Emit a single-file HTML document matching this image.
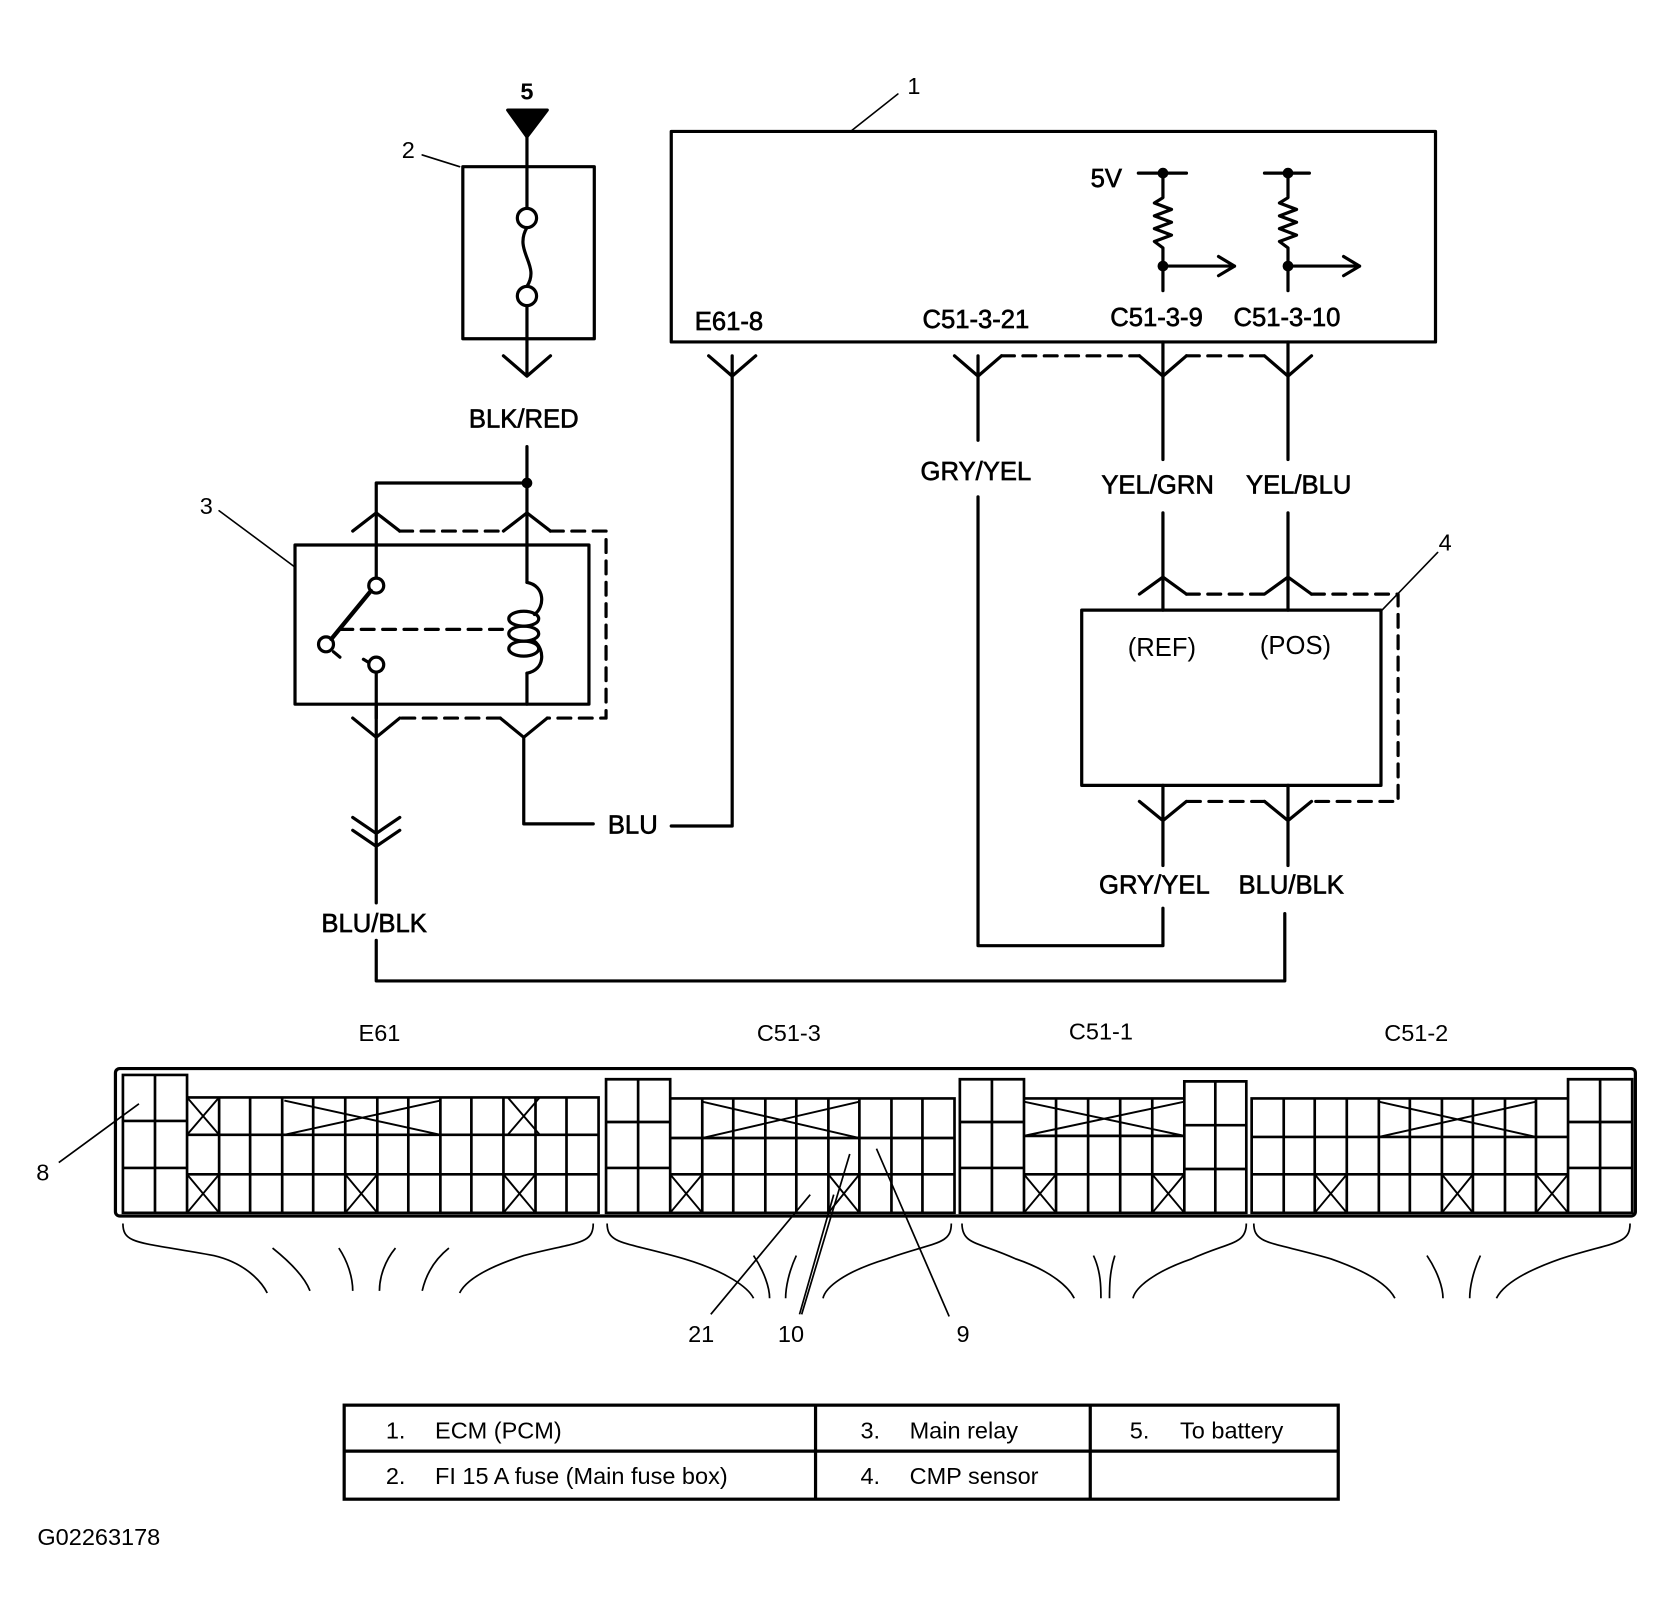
<!DOCTYPE html>
<html><head><meta charset="utf-8"><style>
html,body{margin:0;padding:0;background:#fff}
svg{display:block}
text{font-family:"Liberation Sans",Arial,sans-serif;fill:#000}
.w{font-size:24px;stroke:#000;stroke-width:0.6}
.n{font-size:22px}
</style></head><body>
<svg width="1676" height="1621" viewBox="0 0 1568 1517" preserveAspectRatio="none" xmlns="http://www.w3.org/2000/svg">
<g fill="none" stroke="#000" stroke-width="3" stroke-linecap="round" stroke-linejoin="round">
<rect x="628" y="123" width="715" height="197"/>
<path d="M797 122 L840 88" stroke-width="1.5"/>
<path d="M1065 162 H1110 M1088 162 V185 L1080 190 L1096 196 L1080 202 L1096 208 L1080 214 L1096 220 L1080 226 L1088 232 V272"/>
<path d="M1088 249 H1155 M1140 240 L1155 249 L1140 258"/>
<path d="M1183 162 H1225 M1205 162 V185 L1197 190 L1213 196 L1197 202 L1213 208 L1197 214 L1213 220 L1197 226 L1205 232 V272"/>
<path d="M1205 249 H1272 M1257 240 L1272 249 L1257 258"/>
<path d="M685 333 V773 H628 M663 333 L685 352 L707 333"/>
<path d="M555 771 H490 V690 M468 672 L490 690 L512 672"/>
<path d="M915 333 V412 M893 333 L915 352 L937 333"/>
<path d="M915 465 V885 H1088 V850"/>
<path d="M1088 320 V430 M1066 333 L1088 352 L1110 333"/>
<path d="M1205 320 V430 M1183 333 L1205 352 L1227 333"/>
<path d="M937 333 H1066 M1110 333 H1183" stroke-dasharray="12 8"/>
<path d="M1088 480 V571 M1066 556 L1088 540 L1110 556"/>
<path d="M1205 480 V571 M1183 556 L1205 540 L1227 556"/>
<path d="M1110 556 H1183 M1227 556 H1308 V750 H1227 M1183 750 H1110" stroke-dasharray="12 8"/>
<rect x="1012" y="571" width="280" height="164"/>
<path d="M1088 735 V810 M1066 750 L1088 768 L1110 750"/>
<path d="M1205 735 V810 M1183 750 L1205 768 L1227 750"/>
<path d="M1202 855 V918 H352 V880"/>
<path d="M1292 572 L1345 517" stroke-width="1.5"/>
<path d="M475 103 L512 103 L493 128 Z" fill="#000"/>
<path d="M493 103 V195 M493 286 V350 M471 333 L493 352 L515 333"/>
<rect x="433" y="156" width="123" height="161"/>
<circle cx="493" cy="204" r="9"/>
<circle cx="493" cy="277" r="9"/>
<path d="M493 213 C480 235 506 248 493 268"/>
<path d="M395 145 L430 156" stroke-width="1.5"/>
<path d="M493 418 V545 M352 452 H493 M352 452 V541"/>
<path d="M330 497 L352 480 L374 497 M471 497 L493 480 L515 497"/>
<path d="M374 497 H471 M515 497 H567 V672 H512 M468 672 H374" stroke-dasharray="12 8"/>
<rect x="276" y="510" width="275" height="149"/>
<path d="M205 478 L275 530" stroke-width="1.5"/>
<circle cx="352" cy="548" r="7" fill="#fff"/>
<circle cx="305" cy="603" r="7" fill="#fff"/>
<circle cx="352" cy="622" r="7" fill="#fff"/>
<path d="M310 598 L347 553" stroke-width="4"/>
<path d="M352 629 V672 M312 610 L318 615 M345 620 L340 617"/>
<path d="M318 589 H470" stroke-dasharray="12 8"/>
<path d="M493 545 C510 548 510 568 500 575 M493 630 C510 627 510 608 500 600"/>
<ellipse cx="490" cy="579" rx="14" ry="7"/>
<ellipse cx="490" cy="593" rx="14" ry="7"/>
<ellipse cx="490" cy="607" rx="14" ry="7"/>
<path d="M493 630 V659"/>
<path d="M352 659 V845 M330 672 L352 690 L374 672 M330 765 L352 780 L374 765 M330 777 L352 792 L374 777"/>
<rect x="108" y="1000" width="1422" height="138" rx="4"/>
</g>
<g fill="#000">
<circle cx="493" cy="452" r="5"/>
<circle cx="1088" cy="162" r="5"/>
<circle cx="1088" cy="249" r="5"/>
<circle cx="1205" cy="162" r="5"/>
<circle cx="1205" cy="249" r="5"/>
</g>
<g fill="none" stroke="#000" stroke-width="2">
<path d="M115 1006 H175 V1027 H560 V1135 H115 Z M115 1049 H175 M115 1093 H175 M145 1006 V1135 M175 1027 V1135 M175 1062 H560 M175 1099 H560 M205 1027V1135 M234 1027V1135 M264 1027V1135 M293 1027V1135 M323 1027V1135 M353 1027V1135 M382 1027V1135 M412 1027V1135 M441 1027V1135 M471 1027V1135 M501 1027V1135 M530 1027V1135" stroke-width="2.5"/>
<path d="M175 1027 L205 1062 M205 1027 L175 1062 M475 1027 L505 1062 M505 1027 L475 1062 M175 1099 L205 1135 M205 1099 L175 1135 M323 1099 L353 1135 M353 1099 L323 1135 M471 1099 L501 1135 M501 1099 L471 1135 M266 1030 L412 1062 M266 1062 L412 1030" stroke-width="1.8"/>
<path d="M567 1010 H627 V1028 H893 V1135 H567 Z M567 1050 H627 M567 1093 H627 M597 1010 V1135 M627 1028 V1135 M627 1065 H893 M627 1099 H893 M657 1028V1135 M686 1028V1135 M716 1028V1135 M745 1028V1135 M775 1028V1135 M804 1028V1135 M834 1028V1135 M863 1028V1135" stroke-width="2.5"/>
<path d="M627 1099 L657 1135 M657 1099 L627 1135 M775 1099 L804 1135 M804 1099 L775 1135 M657 1031 L804 1065 M657 1065 L804 1031" stroke-width="1.8"/>
<path d="M898 1010 H958 V1028 H1108 V1012 H1166 V1135 H898 Z M898 1050 H958 M898 1093 H958 M928 1010 V1135 M958 1028 V1135 M958 1063 H1108 M958 1099 H1108 M988 1028V1135 M1018 1028V1135 M1048 1028V1135 M1078 1028V1135 M1108 1012 V1135 M1137 1012 V1135 M1108 1053 H1166 M1108 1094 H1166" stroke-width="2.5"/>
<path d="M958 1099 L988 1135 M988 1099 L958 1135 M1078 1099 L1108 1135 M1108 1099 L1078 1135 M958 1031 L1108 1063 M958 1063 L1108 1031" stroke-width="1.8"/>
<path d="M1171 1028 H1467 V1010 H1527 V1135 H1171 Z M1171 1064 H1467 M1171 1099 H1467 M1467 1050 H1527 M1467 1093 H1527 M1497 1010 V1135 M1201 1028V1135 M1230 1028V1135 M1260 1028V1135 M1290 1028V1135 M1319 1028V1135 M1349 1028V1135 M1378 1028V1135 M1408 1028V1135 M1437 1028V1135 M1467 1028V1135" stroke-width="2.5"/>
<path d="M1230 1099 L1260 1135 M1260 1099 L1230 1135 M1349 1099 L1378 1135 M1378 1099 L1349 1135 M1437 1099 L1467 1135 M1467 1099 L1437 1135 M1290 1031 L1437 1064 M1290 1064 L1437 1031" stroke-width="1.8"/>
</g>
<g fill="none" stroke="#000" stroke-width="1.6">
<path d="M115 1145 C115 1165 130 1162 200 1175 C230 1182 245 1200 250 1210"/>
<path d="M555 1145 C555 1165 540 1162 490 1175 C450 1188 435 1200 430 1210"/>
<path d="M255 1168 C270 1180 285 1195 290 1208 M317 1168 C325 1180 330 1195 330 1208 M370 1168 C360 1180 355 1195 355 1208 M420 1168 C405 1180 398 1195 395 1208"/>
<path d="M568 1145 C568 1165 585 1162 640 1178 C680 1190 700 1205 705 1215"/>
<path d="M890 1145 C890 1165 875 1162 830 1178 C790 1190 772 1205 770 1215"/>
<path d="M705 1175 C715 1190 720 1205 720 1215 M745 1175 C738 1190 735 1205 735 1215"/>
<path d="M900 1145 C900 1165 915 1162 950 1178 C985 1190 1000 1205 1005 1215"/>
<path d="M1166 1145 C1166 1165 1150 1162 1115 1178 C1080 1190 1062 1205 1060 1215"/>
<path d="M1023 1175 C1030 1190 1030 1205 1030 1215 M1043 1175 C1038 1190 1038 1205 1038 1215"/>
<path d="M1173 1145 C1173 1165 1190 1162 1245 1178 C1285 1192 1300 1205 1305 1215"/>
<path d="M1525 1145 C1525 1165 1510 1162 1460 1178 C1420 1192 1405 1205 1400 1215"/>
<path d="M1335 1175 C1345 1190 1350 1205 1350 1215 M1385 1175 C1378 1190 1375 1205 1375 1215"/>
<path d="M55 1088 L130 1033 M665 1230 L758 1118 M750 1230 L795 1080 M748 1230 L780 1118 M888 1232 L820 1075"/>
</g>
<g fill="none" stroke="#000" stroke-width="3">
<rect x="322" y="1315" width="930" height="88"/>
<path d="M322 1358 H1252 M763 1315 V1403 M1020 1315 V1403"/>
</g>
<text class="n" x="493" y="93" text-anchor="middle" font-weight="bold" font-size="24">5</text>
<text class="n" x="855" y="88" text-anchor="middle">1</text>
<text class="n" x="382" y="148" text-anchor="middle">2</text>
<text class="n" x="193" y="481" text-anchor="middle">3</text>
<text class="n" x="1352" y="515" text-anchor="middle">4</text>
<text class="w" x="1035" y="175" text-anchor="middle">5V</text>
<text class="w" x="682" y="309" text-anchor="middle">E61-8</text>
<text class="w" x="913" y="307" text-anchor="middle">C51-3-21</text>
<text class="w" x="1082" y="305" text-anchor="middle">C51-3-9</text>
<text class="w" x="1204" y="305" text-anchor="middle">C51-3-10</text>
<text class="w" x="490" y="400" text-anchor="middle">BLK/RED</text>
<text class="w" x="913" y="449" text-anchor="middle">GRY/YEL</text>
<text class="w" x="1083" y="462" text-anchor="middle">YEL/GRN</text>
<text class="w" x="1215" y="462" text-anchor="middle">YEL/BLU</text>
<text class="w" x="1087" y="614" text-anchor="middle" style="stroke-width:0">(REF)</text>
<text class="w" x="1212" y="612" text-anchor="middle" style="stroke-width:0">(POS)</text>
<text class="w" x="592" y="780" text-anchor="middle">BLU</text>
<text class="w" x="1080" y="836" text-anchor="middle">GRY/YEL</text>
<text class="w" x="1208" y="836" text-anchor="middle">BLU/BLK</text>
<text class="w" x="350" y="872" text-anchor="middle">BLU/BLK</text>
<text class="n" x="355" y="974" text-anchor="middle">E61</text>
<text class="n" x="738" y="974" text-anchor="middle">C51-3</text>
<text class="n" x="1030" y="973" text-anchor="middle">C51-1</text>
<text class="n" x="1325" y="974" text-anchor="middle">C51-2</text>
<text class="n" x="40" y="1105" text-anchor="middle">8</text>
<text class="n" x="656" y="1256" text-anchor="middle">21</text>
<text class="n" x="740" y="1256" text-anchor="middle">10</text>
<text class="n" x="901" y="1256" text-anchor="middle">9</text>
<text class="n" x="361" y="1346" font-size="24">1.</text>
<text class="n" x="407" y="1346" font-size="24">ECM (PCM)</text>
<text class="n" x="361" y="1389" font-size="24">2.</text>
<text class="n" x="407" y="1389" font-size="24">FI 15 A fuse (Main fuse box)</text>
<text class="n" x="805" y="1346" font-size="24">3.</text>
<text class="n" x="851" y="1346" font-size="24">Main relay</text>
<text class="n" x="805" y="1389" font-size="24">4.</text>
<text class="n" x="851" y="1389" font-size="24">CMP sensor</text>
<text class="n" x="1057" y="1346" font-size="24">5.</text>
<text class="n" x="1104" y="1346" font-size="24">To battery</text>
<text class="n" x="35" y="1446" font-size="20">G02263178</text>
</svg>
</body></html>
